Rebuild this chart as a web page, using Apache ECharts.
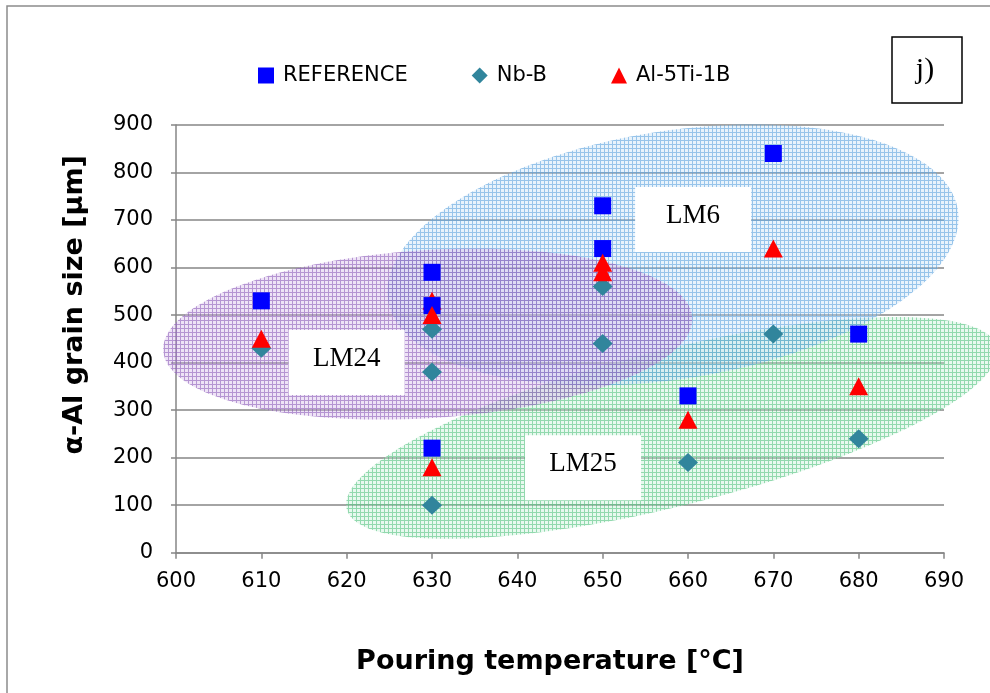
<!DOCTYPE html>
<html><head><meta charset="utf-8">
<script src="https://cdn.jsdelivr.net/npm/echarts@6/dist/echarts.min.js"></script>
<style>html,body{margin:0;padding:0;background:#fff}#c{width:990px;height:693px}</style>
</head><body><div id="c"></div>
<script>
// ---- Data ----
const seriesNames = ['REFERENCE', 'Nb-B', 'Al-5Ti-1B'];
const alloyNames = ['LM24', 'LM6', 'LM25'];
const tempLM24 = [610, 630, 650];
const tempLM6  = [630, 650, 670];
const tempLM25 = [630, 660, 680];
const refLM24 = [530, 590, 640];
const nbbLM24 = [430, 470, 560];
const tiLM24  = [450, 530, 610];
const refLM6  = [520, 730, 840];
const nbbLM6  = [380, 440, 460];
const tiLM6   = [500, 590, 640];
const refLM25 = [220, 330, 460];
const nbbLM25 = [100, 190, 240];
const tiLM25  = [180, 280, 350];
// ellipse annotations in data units: centre x, centre y, semi-axis A (dx, dy), semi-axis B (dx, dy)
const ellipseLM24 = [629.5, 460, 31.0, 35, 0.62, -176.4];
const ellipseLM6  = [658.24, 626.5, 33.39, 94.9, 2.27, -257.8];
const ellipseLM25 = [658.1, 262.5, 38.1, 170.5, 2.2, -159.4];
// label anchors in data units
const labelAnchorX = [620.0, 660.6, 647.7];
const labelAnchorY = [400, 701, 179];

// ---- Styling ----
const FONT = 'DejaVu Sans';
const colRef = '#0000FF', colNb = '#31859C', colTi = '#FF0000';

function makePattern(line, fill) {
  const c = document.createElement('canvas');
  c.width = 4; c.height = 4;
  const g = c.getContext('2d');
  g.fillStyle = fill; g.fillRect(0, 0, 4, 4);
  g.fillStyle = line; g.fillRect(0, 0, 4, 1); g.fillRect(0, 1, 1, 3);
  return c;
}
const patPurple = { image: makePattern('rgba(135,85,180,0.55)', 'rgba(205,175,230,0.35)'), repeat: 'repeat' };
const patBlue   = { image: makePattern('rgba(70,150,215,0.50)', 'rgba(190,220,245,0.35)'), repeat: 'repeat' };
const patGreen  = { image: makePattern('rgba(60,185,110,0.50)', 'rgba(190,238,210,0.35)'), repeat: 'repeat' };

const ellipseData = [ellipseLM25, ellipseLM6, ellipseLM24];
const ellipsePats = [patGreen, patBlue, patPurple];

function pairs(xs, ys) { return xs.map((x, i) => [x, ys[i]]); }

function scatter(name, xs, ys) {
  const st = name === 'REFERENCE' ? { symbol: 'rect', symbolSize: [17, 17], color: colRef }
           : name === 'Nb-B' ? { symbol: 'diamond', symbolSize: [20, 19], color: colNb }
           : { symbol: 'triangle', symbolSize: [19, 18], color: colTi };
  return {
    type: 'scatter', name: name, data: pairs(xs, ys), z: 5,
    symbol: st.symbol, symbolSize: st.symbolSize,
    itemStyle: { color: st.color, opacity: 1 }, emphasis: { disabled: true }
  };
}

const chart = echarts.init(document.getElementById('c'), null, { renderer: 'canvas' });
chart.setOption({
  animation: false,
  backgroundColor: '#fff',
  grid: { left: 176, right: 46, top: 125, bottom: 140.3 },
  legend: {
    data: [
      { name: 'REFERENCE', icon: 'rect' },
      { name: 'Nb-B', icon: 'diamond' },
      { name: 'Al-5Ti-1B', icon: 'triangle' }
    ],
    left: 253, top: 60, itemWidth: 16, itemHeight: 16, itemGap: 64,
    textStyle: { fontFamily: FONT, fontSize: 21, color: '#000', padding: [0, 0, 0, 4] },
    selectedMode: false
  },
  xAxis: {
    type: 'value', min: 600, max: 690, interval: 10,
    axisLine: { show: true, onZero: false, lineStyle: { color: '#868686', width: 1.5 } },
    axisTick: { show: true, length: 6, lineStyle: { color: '#868686', width: 1.5 } },
    splitLine: { show: false },
    axisLabel: { fontFamily: FONT, fontSize: 21, color: '#000', margin: 18 },
    name: 'Pouring temperature [°C]', nameLocation: 'middle', nameGap: 96,
    nameTextStyle: { fontFamily: FONT, fontSize: 27, fontWeight: 'bold', color: '#000', padding: [0, 20, 0, 0] }
  },
  yAxis: {
    type: 'value', min: 0, max: 900, interval: 100,
    axisLine: { show: true, lineStyle: { color: '#868686', width: 1.5 } },
    axisTick: { show: true, length: 5, lineStyle: { color: '#868686', width: 1.5 } },
    splitLine: { show: true, lineStyle: { color: '#868686', width: 1.5 } },
    axisLabel: { fontFamily: FONT, fontSize: 21, color: '#000', margin: 23 },
    name: 'α-Al grain size [µm]', nameLocation: 'middle', nameGap: 88,
    nameTextStyle: { fontFamily: FONT, fontSize: 27, fontWeight: 'bold', color: '#000', padding: [0, 0, 0, 68] }
  },
  graphic: [
    { type: 'rect', shape: { x: 7, y: 6, width: 1100, height: 1000 }, style: { fill: 'none', stroke: '#8c8c8c', lineWidth: 1.5 }, z: 100 },
    { type: 'rect', shape: { x: 892, y: 37, width: 70, height: 66 }, style: { fill: '#fff', stroke: '#000', lineWidth: 1.5 }, z: 100 },
    { type: 'text', x: 925, y: 70, style: { text: 'j)', font: '30px "Liberation Serif"', fill: '#000', align: 'center', verticalAlign: 'middle' }, z: 101 }
  ],
  series: [
    {
      type: 'custom', name: 'ellipses', silent: true, clip: false, z: 1,
      data: ellipseData,
      encode: { x: 0, y: 1 },
      renderItem: function (params, api) {
        const cx = api.value(0), cy = api.value(1), ax = api.value(2), ay = api.value(3), bx = api.value(4), by = api.value(5);
        const pts = [];
        for (let i = 0; i < 120; i++) {
          const t = i / 120 * Math.PI * 2;
          pts.push(api.coord([cx + ax * Math.cos(t) + bx * Math.sin(t), cy + ay * Math.cos(t) + by * Math.sin(t)]));
        }
        return { type: 'polygon', shape: { points: pts }, style: { fill: ellipsePats[params.dataIndex], stroke: null } };
      }
    },
    {
      type: 'custom', name: 'labels', silent: true, clip: false, z: 3,
      data: pairs(labelAnchorX, labelAnchorY),
      encode: { x: 0, y: 1 },
      renderItem: function (params, api) {
        const p = api.coord([api.value(0), api.value(1)]);
        return {
          type: 'group', children: [
            { type: 'rect', shape: { x: p[0] - 58, y: p[1] - 32.5, width: 116, height: 65 }, style: { fill: '#fff' } },
            { type: 'text', style: { text: alloyNames[params.dataIndex], x: p[0], y: p[1] - 4, align: 'center', verticalAlign: 'middle', font: '27px "Liberation Serif"', fill: '#000' } }
          ]
        };
      }
    },
    scatter('REFERENCE', tempLM24, refLM24),
    scatter('Nb-B', tempLM24, nbbLM24),
    scatter('Al-5Ti-1B', tempLM24, tiLM24),
    scatter('REFERENCE', tempLM6, refLM6),
    scatter('Nb-B', tempLM6, nbbLM6),
    scatter('Al-5Ti-1B', tempLM6, tiLM6),
    scatter('REFERENCE', tempLM25, refLM25),
    scatter('Nb-B', tempLM25, nbbLM25),
    scatter('Al-5Ti-1B', tempLM25, tiLM25)
  ]
});
</script>
</body></html>
